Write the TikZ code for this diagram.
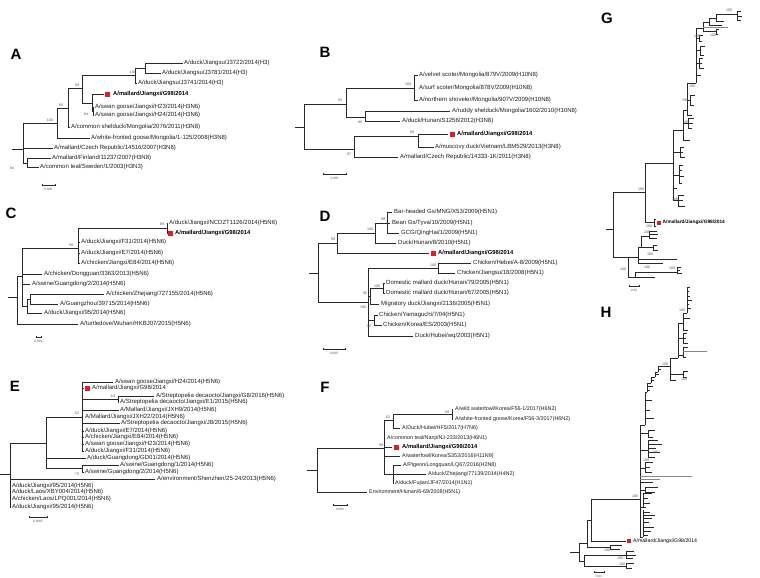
\documentclass[tikz,border=0pt]{standalone}
\usepackage{fontspec}
\setmainfont{Liberation Sans}
\definecolor{brc}{RGB}{40,40,40}
\definecolor{brg}{RGB}{135,135,135}
\definecolor{txtc}{RGB}{30,30,30}
\definecolor{supc}{RGB}{85,85,85}
\definecolor{hlred}{RGB}{220,30,38}
\tikzset{
  br/.style={draw=brc, line width=0.75pt},
  brg/.style={draw=brg, line width=0.75pt},
  tip/.style={anchor=west, inner sep=0pt, text=txtc, font=\fontsize{6}{7}\selectfont},
  hl/.style={anchor=west, inner sep=0pt, text=black, font=\bfseries\fontsize{5.8}{7}\selectfont},
  sup/.style={inner sep=0pt, text=supc, font=\fontsize{3.6}{4}\selectfont},
  hlsq/.style={fill=hlred, draw=none, minimum size=5pt, inner sep=0pt},
  pnl/.style={inner sep=0pt, text=black, font=\bfseries\fontsize{15}{15}\selectfont},
  sbl/.style={inner sep=0pt, text=supc, font=\fontsize{3.2}{4}\selectfont},
}
\begin{document}
\begin{tikzpicture}[x=1pt,y=-1pt]
\useasboundingbox[fill=white] (0,0) rectangle (760,578);

% ================= A =================
\node[pnl] (pA) at (16,54) {A};
\draw[br] (12,149) -- (23,149)  (23,123) -- (23,163)
  (23,123) -- (57,123)  (57,108) -- (57,138)  (57,138) -- (90,138)
  (57,108) -- (68,108)  (68,88) -- (68,127)  (68,127) -- (70,127)
  (68,88) -- (82,88)  (82,75) -- (82,103)
  (82,75) -- (135,75)  (135,68) -- (135,83)  (135,83) -- (137,83)
  (135,68) -- (145,68)  (145,63) -- (145,73)  (145,63) -- (183,63)  (145,73) -- (161,73)
  (82,103) -- (92,103)  (92,94) -- (92,111)  (92,94) -- (104,94)
  (92,111) -- (93,111)  (93,107) -- (93,115)  (93,107) -- (94,107)  (93,115) -- (94,115)
  (23,148) -- (53,148)
  (23,163) -- (27,163)  (27,158) -- (27,167)  (27,158) -- (51,158)  (27,167) -- (39,167);
\node[tip] (a1) at (184,63) {A/duck/Jiangsu/J3722/2014(H3)};
\node[tip] (a2) at (162,73) {A/duck/Jiangsu/J3781/2014(H3)};
\node[tip] (a3) at (138,83) {A/duck/Jiangsu/J3741/2014(H3)};
\node[hlsq] (a4s) at (107.5,94) {};
\node[hl] (a4) at (113,94) {A/mallard/Jiangxi/G98/2014};
\node[tip] (a5) at (95,107) {A/swan goose/Jiangxi/H23/2014(H3N6)};
\node[tip] (a6) at (95,115) {A/swan goose/Jiangxi/H24/2014(H3N6)};
\node[tip] (a7) at (71,127) {A/common shelduck/Mongolia/2076/2011(H3N8)};
\node[tip] (a8) at (91,138) {A/white-fronted goose/Mongolia/1-125/2008(H3N8)};
\node[tip] (a9) at (54,148) {A/mallard/Czech Republic/14516/2007(H3N8)};
\node[tip] (a10) at (52,158) {A/mallard/Finland/11237/2007(H3N8)};
\node[tip] (a11) at (40,167) {A/common teal/Sweden/1/2003(H3N3)};
\node[sup] (as1) at (133,72) {100};
\node[sup] (as2) at (77,85) {89};
\node[sup] (as3) at (61,105) {80};
\node[sup] (as4) at (50,120) {100};
\node[sup] (as5) at (86,114) {94};
\node[sup] (as6) at (12,168) {84};
\draw[br] (42,183.5) -- (42,185) -- (55,185) -- (55,183.5);
\node[sbl] (asb) at (48.5,189) {0.005};

% ================= B =================
\node[pnl] (pB) at (325,52) {B};
\draw[br] (295,127) -- (304,127)  (304,104) -- (304,149)
  (304,104) -- (346,104)  (346,88) -- (346,117)
  (346,88) -- (414,88)  (414,75) -- (414,100)  (414,75) -- (418,75)  (414,100) -- (418,100)
  (346,117) -- (365,117)  (365,111) -- (365,121)  (365,111) -- (450,111)  (365,121) -- (400,121)
  (304,149) -- (354,149)  (354,136) -- (354,157)
  (354,136) -- (418,136)  (418,134) -- (418,147)  (418,134) -- (448,134)  (418,147) -- (434,147)
  (354,157) -- (398,157);
\node[tip] (b1) at (419,75) {A/velvet scoter/Mongolia/879V/2009(H10N8)};
\node[tip] (b2) at (419,88) {A/surf scoter/Mongolia/878V/2009(H10N8)};
\node[tip] (b3) at (419,100) {A/northern shoveler/Mongolia/907V/2009(H10N8)};
\node[tip] (b4) at (452,111) {A/ruddy shelduck/Mongolia/1602/2010(H10N8)};
\node[tip] (b5) at (402,121) {A/duck/Hunan/S1256/2012(H3N8)};
\node[hlsq] (b6s) at (452.5,134) {};
\node[hl] (b6) at (457,134) {A/mallard/Jiangxi/G98/2014};
\node[tip] (b7) at (435,147) {A/muscovy duck/Vietnam/LBM529/2013(H3N8)};
\node[tip] (b8) at (400,157) {A/mallard/Czech Republic/14333-1K/2011(H3N8)};
\node[sup] (bs1) at (408,84) {100};
\node[sup] (bs2) at (340,100) {93};
\node[sup] (bs3) at (360,122) {89};
\node[sup] (bs4) at (412,132) {99};
\node[sup] (bs5) at (349,154) {97};
\draw[br] (323,172.5) -- (323,174) -- (346,174) -- (346,172.5);
\node[sbl] (bsb) at (334.5,178) {0.005};

% ================= C =================
\node[pnl] (pC) at (11,213) {C};
\draw[br] (8,297) -- (17,297)  (17,276) -- (17,324)
  (17,276) -- (22,276)  (22,248) -- (22,306)
  (22,248) -- (78,248)  (78,228) -- (78,263)
  (78,228) -- (167,228)  (167,223) -- (167,233)  (167,223) -- (168,223)  (167,233) -- (168,233)
  (78,242) -- (80,242)  (78,253) -- (80,253)  (78,263) -- (80,263)
  (22,274) -- (42,274)  (22,284) -- (30,284)
  (22,306) -- (27,306)  (27,299) -- (27,313)  (27,299) -- (30,299)
  (30,294) -- (30,304)  (30,294) -- (104,294)  (30,304) -- (58,304)
  (27,313) -- (42,313)
  (17,324) -- (78,324);
\node[tip] (c1) at (169,223) {A/duck/Jiangxi/NCDZT1126/2014(H5N6)};
\node[hlsq] (c2s) at (170.5,233) {};
\node[hl] (c2) at (175,233) {A/mallard/Jiangxi/G98/2014};
\node[tip] (c3) at (81,242) {A/duck/Jiangxi/F31/2014(H5N6)};
\node[tip] (c4) at (81,253) {A/duck/Jiangxi/E7/2014(H5N6)};
\node[tip] (c5) at (81,263) {A/chicken/Jiangxi/E84/2014(H5N6)};
\node[tip] (c6) at (44,274) {A/chicken/Dongguan/3363/2013(H5N6)};
\node[tip] (c7) at (32,284) {A/swine/Guangdong/2/2014(H5N6)};
\node[tip] (c8) at (106,294) {A/chicken/Zhejiang/727155/2014(H5N6)};
\node[tip] (c9) at (60,304) {A/Guangzhou/39715/2014(H5N6)};
\node[tip] (c10) at (44,313) {A/duck/Jiangxi/95/2014(H5N6)};
\node[tip] (c11) at (80,324) {A/turtledove/Wuhan/HKBJ07/2015(H5N6)};
\node[sup] (cs1) at (162,224) {99};
\node[sup] (cs2) at (71,245) {99};
\draw[br] (36,335.5) -- (36,337) -- (41,337) -- (41,335.5);
\node[sbl] (csb) at (38.5,341) {0.001};

% ================= D =================
\node[pnl] (pD) at (325,216) {D};
\draw[br] (309,273) -- (318,273)  (318,243) -- (318,302)
  (318,243) -- (337,243)  (337,233) -- (337,253)
  (337,233) -- (375,233)  (375,223) -- (375,243)
  (375,223) -- (387,223)  (387,212) -- (387,233)
  (387,212) -- (392,212)  (387,223) -- (390,223)  (387,233) -- (399,233)
  (375,243) -- (396,243)
  (337,253) -- (429,253)
  (318,302) -- (368,302)  (368,268) -- (368,336)
  (368,268) -- (438,268)  (438,263) -- (438,273)  (438,263) -- (471,263)  (438,273) -- (455,273)
  (368,296) -- (370,296)  (370,288) -- (370,304)
  (370,288) -- (383,288)  (383,283) -- (383,293)  (383,283) -- (385,283)  (383,293) -- (385,293)
  (370,304) -- (379,304)
  (368,320) -- (374,320)  (374,315) -- (374,325)  (374,315) -- (378,315)  (374,325) -- (382,325)
  (368,336) -- (413,336);
\node[tip] (d1) at (394,212) {Bar-headed Gs/MNG/X53/2009(H5N1)};
\node[tip] (d2) at (392,223) {Bean Gs/Tyva/10/2009(H5N1)};
\node[tip] (d3) at (401,233) {GCG/QingHai/1/2009(H5N1)};
\node[tip] (d4) at (398,243) {Duck/Hunan/8/2010(H5N1)};
\node[hlsq] (d5s) at (433.5,253) {};
\node[hl] (d5) at (438,253) {A/mallard/Jiangxi/G98/2014};
\node[tip] (d6) at (473,263) {Chicken/Hebei/A-8/2009(H5N1)};
\node[tip] (d7) at (457,273) {Chicken/Jiangsu/18/2008(H5N1)};
\node[tip] (d8) at (386,283) {Domestic mallard duck/Hunan/79/2005(H5N1)};
\node[tip] (d9) at (386,293) {Domestic mallard duck/Hunan/67/2005(H5N1)};
\node[tip] (d10) at (381,304) {Migratory duck/Jiangxi/2136/2005(H5N1)};
\node[tip] (d11) at (379,315) {Chicken/Yamaguchi/7/04(H5N1)};
\node[tip] (d12) at (383,325) {Chicken/Korea/ES/2003(H5N1)};
\node[tip] (d13) at (415,336) {Duck/Hubei/wq/2003(H5N1)};
\node[sup] (ds1) at (333,239) {99};
\node[sup] (ds2) at (370,229) {100};
\node[sup] (ds3) at (383,219) {99};
\node[sup] (ds4) at (433,265) {100};
\node[sup] (ds5) at (377,286) {100};
\node[sup] (ds6) at (365,293) {95};
\node[sup] (ds7) at (363,307) {100};
\node[sup] (ds8) at (369,326) {95};
\draw[br] (323,347.5) -- (323,349) -- (345,349) -- (345,347.5);
\node[sbl] (dsb) at (334,353) {0.005};

% ================= E =================
\node[pnl] (pE) at (15,386) {E};
\draw[br] (0,474) -- (10,474)  (10,443) -- (10,507)
  (10,443) -- (46,443)  (46,417) -- (46,468)
  (46,417) -- (82,417)  (82,382) -- (82,451)
  (82,382) -- (113,382)  (82,388) -- (84,388)
  (82,399) -- (118,399)  (118,396) -- (118,402)  (118,396) -- (154,396)  (118,402) -- (119,402)
  (82,410) -- (119,410)  (82,423) -- (120,423)
  (82,431) -- (84,431)  (82,437) -- (84,437)  (82,444) -- (84,444)  (82,451) -- (84,451)
  (46,458) -- (86,458)
  (46,468) -- (82,468)  (82,465) -- (82,472)  (82,465) -- (119,465)  (82,472) -- (84,472)
  (10,479) -- (155,479)
  (10,486) -- (11,486)  (10,492) -- (11,492)  (10,499) -- (11,499)  (10,507) -- (11,507);
\node[tip] (e1) at (115,382) {A/swan goose/Jiangxi/H24/2014(H5N6)};
\node[hlsq] (e2s) at (87.5,388) {};
\node[tip] (e2) at (92,388) {A/mallard/Jiangxi/G98/2014};
\node[tip] (e3) at (156,396) {A/Streptopelia decaocto/Jiangxi/G8/2016(H5N6)};
\node[tip] (e4) at (120,402) {A/Streptopelia decaocto/Jiangxi/E1/2015(H5N6)};
\node[tip] (e5) at (120,410) {A/Mallard/Jiangxi/JXH9/2014(H5N6)};
\node[tip] (e6) at (85,417) {A/Mallard/Jiangxi/JXH22/2014(H5N6)};
\node[tip] (e7) at (121,423) {A/Streptopelia decaocto/Jiangxi/J8/2015(H5N6)};
\node[tip] (e8) at (85,431) {A/duck/Jiangxi/E7/2014(H5N6)};
\node[tip] (e9) at (85,437) {A/chicken/Jiangxi/E84/2014(H5N6)};
\node[tip] (e10) at (85,444) {A/swan goose/Jiangxi/H23/2014(H5N6)};
\node[tip] (e11) at (85,451) {A/duck/Jiangxi/F31/2014(H5N6)};
\node[tip] (e12) at (87,458) {A/duck/Guangdong/GD01/2014(H5N6)};
\node[tip] (e13) at (120,465) {A/swine/Guangdong/1/2014(H5N6)};
\node[tip] (e14) at (85,472) {A/swine/Guangdong/2/2014(H5N6)};
\node[tip] (e15) at (157,479) {A/environment/Shenzhen/25-24/2013(H5N6)};
\node[tip] (e16) at (12,486) {A/duck/Jiangxi/95/2014(H5N6)};
\node[tip] (e17) at (12,492) {A/duck/Laos/XBY004/2014(H5N6)};
\node[tip] (e18) at (12,499) {A/chicken/Laos/LPQ001/2014(H5N6)};
\node[tip] (e19) at (12,507) {A/duck/Jiangxi/95/2014(H5N6)};
\node[sup] (es1) at (77,413) {62};
\node[sup] (es2) at (113,396) {63};
\node[sup] (es3) at (77,474) {75};
\draw[br] (29,515.5) -- (29,517) -- (47,517) -- (47,515.5);
\node[sbl] (esb) at (38,521) {0.0005};

% ================= F =================
\begin{scope}[tip/.append style={font=\fontsize{5.4}{6}\selectfont}]
\node[pnl] (pF) at (325,387) {F};
\draw[br] (307,470) -- (317,470)  (317,448) -- (317,492)
  (317,448) -- (384,448)  (384,420) -- (384,474)
  (384,420) -- (393,420)  (393,414) -- (393,428)
  (393,414) -- (452,414)  (452,409) -- (452,419)  (452,409) -- (453,409)  (452,419) -- (453,419)
  (393,428) -- (400,428)
  (384,438) -- (385,438)  (384,447) -- (392,447)  (384,456) -- (400,456)
  (384,474) -- (393,474)  (393,465) -- (393,483)
  (393,465) -- (401,465)  (393,474) -- (426,474)  (393,483) -- (393.5,483)
  (317,492) -- (367,492);
\node[tip] (f1) at (455,409) {A/wild waterfowl/Korea/F56-1/2017(H6N2)};
\node[tip] (f2) at (455,419) {A/white-fronted goose/Korea/F56-3/2017(H6N2)};
\node[tip] (f3) at (402,428) {A/Duck/Hubei/HF5/2017(H7N6)};
\node[tip] (f4) at (387,438) {A/common teal/Nanji/NJ-233/2013(H6N1)};
\node[hlsq] (f5s) at (396.5,447) {};
\node[hl] (f5) at (402,447) {A/mallard/Jiangxi/G98/2014};
\node[tip] (f6) at (402,456) {A/waterfowl/Korea/S353/2016(H11N9)};
\node[tip] (f7) at (403,465) {A/Pigeon/Longquan/LQ67/2016(H2N8)};
\node[tip] (f8) at (428,474) {A/duck/Zhejiang/77139/2014(H4N2)};
\node[tip] (f9) at (395,483) {A/duck/Fujian/JF47/2014(H1N1)};
\node[tip] (f10) at (369,492) {Environment/Hunan/6-69/2008(H5N1)};
\node[sup] (fs1) at (447,412) {99};
\node[sup] (fs2) at (388,417) {62};
\node[sup] (fs3) at (381,445) {99};
\draw[br] (333,503.5) -- (333,505) -- (347,505) -- (347,503.5);
\node[sbl] (fsb) at (340,509) {0.002};
\end{scope}

% ================= G =================
\node[pnl] (pG) at (607,18) {G};
\draw[br] (606,229) -- (613,229)  (613,192) -- (613,257)
  (613,192) -- (645,192)  (645,163) -- (645,222)
  (645,222) -- (654,222)  (654,219) -- (654,226)  (654,219) -- (656,219)  (654,226) -- (656,226)
  (645,163) -- (673,163)  (673,130) -- (673,200)
  (673,200) -- (678,200)  (678,195) -- (678,206)  (678,195) -- (684,195)  (678,200) -- (683,200)  (678,206) -- (685,206)
  (673,188) -- (677,188)
  (673,175) -- (679,175)  (679,165) -- (679,183)  (679,165) -- (683,165)  (679,170) -- (682,170)  (679,176) -- (684,176)  (679,183) -- (682,183)
  (673,152) -- (680,152)  (680,147) -- (680,157)  (680,147) -- (684,147)  (680,152) -- (683,152)  (680,157) -- (685,157)
  (673,130) -- (683,130)  (683,110) -- (683,140)
  (683,140) -- (690,140)
  (683,123) -- (688,123)  (688,118) -- (688,128)  (688,118) -- (694,118)  (688,123) -- (693,123)  (688,128) -- (692,128)
  (683,110) -- (687,110)  (687,83) -- (687,115)
  (687,115) -- (692,115)
  (687,100) -- (690,100)  (690,95) -- (690,105)  (690,95) -- (695,95)  (690,105) -- (694,105)
  (687,83) -- (696,83)  (696,28) -- (696,83)
  (696,75) -- (701,75)
  (696,63) -- (699,63)  (699,58) -- (699,68)  (699,58) -- (703,58)  (699,63) -- (702,63)  (699,68) -- (704,68)
  (696,50) -- (700,50)  (700,46) -- (700,55)  (700,46) -- (705,46)  (700,55) -- (704,55)
  (696,38) -- (699,38)  (699,35) -- (699,41)  (699,35) -- (703,35)  (699,41) -- (702,41)
  (696,28) -- (703,28)  (703,22) -- (703,31)
  (703,31) -- (716,31)  (716,29) -- (716,34)  (716,29) -- (719,29)  (716,34) -- (718,34)
  (703,22) -- (709,22)  (709,18) -- (709,25)  (709,25) -- (722,25)
  (709,18) -- (716,18)  (716,14) -- (716,21)  (716,21) -- (724,21)
  (716,14) -- (737,14)  (737,11) -- (737,20)  (737,11) -- (741,11)  (737,16) -- (742,16)  (737,20) -- (741,20)
  (613,257) -- (638,257)  (628,257) -- (628,277)
  (638,247) -- (638,263)
  (638,247) -- (641,247)  (641,236) -- (641,247)
  (641,236) -- (649,236)  (649,231) -- (649,238)  (649,231) -- (657,231)  (649,234) -- (658,234)  (649,238) -- (657,238)
  (641,247) -- (653,247)  (653,245) -- (653,250)  (653,245) -- (657,245)  (653,250) -- (658,250)
  (638,259) -- (677,259)  (638,263) -- (663,263)
  (628,277) -- (635,277)  (635,272) -- (635,277)
  (635,272) -- (677,272)  (677,267) -- (677,273)  (677,267) -- (681,267)  (677,270) -- (680,270)  (677,273) -- (682,273)
  (635,277) -- (655,277);
\draw[brg] (703,27) -- (728,27);
\node[hlsq, minimum size=4pt] (g1s) at (658.5,222.5) {};
\node[hl, font=\bfseries\fontsize{4.8}{5}\selectfont] (g1) at (662.5,222.5) {A/mallard/Jiangxi/G98/2014};
\node[sup] (gs1) at (729,10) {100};
\node[sup] (gs2) at (697,36) {100};
\node[sup] (gs3) at (713,35) {100};
\node[sup] (gs4) at (692,86) {100};
\node[sup] (gs5) at (685,100) {100};
\node[sup] (gs6) at (686,122) {100};
\node[sup] (gs7) at (675,199) {100};
\node[sup] (gs8) at (641,189) {100};
\node[sup] (gs9) at (649,226) {100};
\node[sup] (gs10) at (647,232) {100};
\node[sup] (gs11) at (650,254) {100};
\node[sup] (gs12) at (647,267) {100};
\node[sup] (gs13) at (672,268) {100};
\node[sup] (gs14) at (623,269) {100};
\draw[br] (629,284.5) -- (629,286) -- (639,286) -- (639,284.5);
\node[sbl] (gsb) at (634,290) {0.02};

% ================= H =================
\node[pnl] (pH) at (606,312) {H};
\draw[br] (570,552) -- (579,552)  (579,543) -- (579,561)
  (579,543) -- (587,543)  (587,520) -- (587,547)
  (587,520) -- (591,520)  (591,499) -- (591,541)
  (591,541) -- (626,541)
  (587,547) -- (610,547)  (610,545) -- (610,549)  (610,545) -- (622,545)  (610,549) -- (620,549)
  (579,561) -- (584,561)  (584,555) -- (584,566)
  (584,555) -- (626,555)  (626,551) -- (626,558)  (626,551) -- (634,551)  (626,555) -- (636,555)  (626,558) -- (633,558)
  (584,566) -- (626,566)  (626,563) -- (626,568)  (626,563) -- (634,563)  (626,568) -- (632,568)
  (591,499) -- (640,499)  (640,425) -- (640,537)
  (640,537) -- (643,537)  (643,510) -- (643,537)
  (643,512) -- (650,512) (643,515) -- (655,515) (643,518) -- (652,518) (643,522) -- (649,522) (643,527) -- (654,527) (643,531) -- (651,531) (643,535) -- (648,535)
  (640,507) -- (643,507)  (643,493) -- (643,507)  (643,493) -- (652,493) (643,498) -- (648,498) (643,503) -- (650,503) (643,507) -- (646,507)
  (640,490) -- (645,490)  (645,487) -- (645,492)  (645,487) -- (658,487)  (645,492) -- (655,492)
  (640,482) -- (653,482)
  (640,468) -- (645,468)  (645,462) -- (645,472)  (645,462) -- (653,462)  (645,467) -- (650,467)  (645,472) -- (652,472)
  (640,450) -- (648,450)  (648,440) -- (648,457)  (648,440) -- (658,440) (648,444) -- (662,444) (648,448) -- (656,448) (648,452) -- (660,452) (648,457) -- (655,457)
  (640,433) -- (648,433)  (648,430) -- (648,437) (648,430) -- (655,430) (648,437) -- (653,437)
  (640,425) -- (645,425)  (645,392) -- (645,425)
  (645,418) -- (654,418)  (645,410) -- (650,410)  (645,400) -- (652,400)
  (645,392) -- (647,392)  (647,383) -- (647,392)  (647,386) -- (653,386) (647,390) -- (650,390)
  (647,383) -- (651,383)  (651,377) -- (651,383)  (651,380) -- (654,380)
  (651,377) -- (655,377)  (655,372) -- (655,377)  (655,374) -- (659,374)
  (655,372) -- (658,372)  (658,366) -- (658,372)  (658,369) -- (661,369)
  (658,366) -- (670,366)  (670,358) -- (670,380)
  (670,380) -- (676,380)
  (670,374) -- (683,374)  (683,371) -- (683,377)  (683,371) -- (688,371)  (683,377) -- (687,377)
  (670,358) -- (678,358)  (678,323) -- (678,358)
  (678,355) -- (683,355)  (683,347) -- (683,357)  (683,347) -- (688,347)  (683,357) -- (686,357)
  (678,338) -- (683,338)  (683,333) -- (683,343)  (683,333) -- (687,333)  (683,338) -- (686,338)  (683,343) -- (688,343)
  (678,323) -- (683,323)  (683,313) -- (683,330)
  (683,330) -- (688,330)  (683,318) -- (690,318)
  (683,313) -- (687,313)  (687,287) -- (687,313)
  (687,287) -- (690,287) (687,291) -- (689,291) (687,296) -- (690,296) (687,300) -- (692,300) (687,304) -- (689,304) (687,308) -- (691,308);
\draw[brg] (640,476) -- (692,476)  (640,479) -- (660,479)  (683,351) -- (707,351);
\node[hlsq, minimum size=4.5pt] (h1s) at (629,541) {};
\node[tip, font=\fontsize{5.2}{6}\selectfont, text=black] (h1) at (633,541) {A/mallard/Jiangxi/G98/2014};
\node[sup] (hs1) at (635,496) {100};
\node[sup] (hs2) at (607,550) {100};
\node[sup] (hs3) at (620,558) {100};
\node[sup] (hs4) at (622,564) {100};
\node[sup] (hs5) at (655,452) {100};
\node[sup] (hs6) at (646,460) {100};
\node[sup] (hs7) at (665,364) {100};
\node[sup] (hs8) at (684,379) {100};
\node[sup] (hs9) at (682,310) {100};
\draw[br] (594,570.5) -- (594,572) -- (604,572) -- (604,570.5);
\node[sbl] (hsb) at (599,576) {0.01};

\end{tikzpicture}
\end{document}
